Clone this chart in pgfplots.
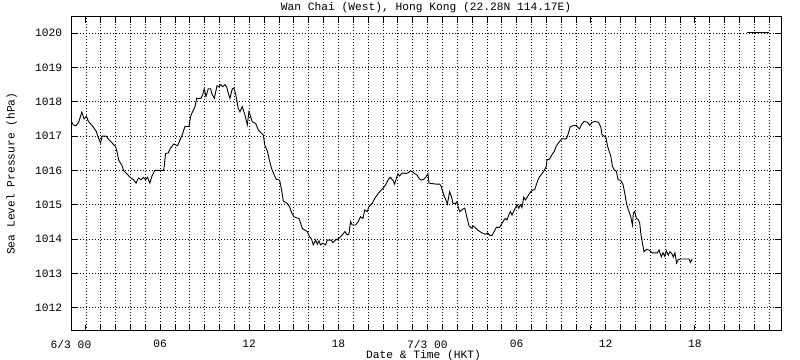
\documentclass[border=0pt]{standalone}
\usepackage{pgfplots}
\pgfplotsset{compat=1.18}
\usepackage{fontspec}
\setmainfont{Liberation Mono}
\newcommand\cf{\fontsize{11.3}{13}\selectfont}
\pgfplotstableread{
h v
0.00 1017.45
0.15 1017.33
0.33 1017.30
0.51 1017.40
0.73 1017.70
0.88 1017.50
1.04 1017.58
1.17 1017.43
1.44 1017.30
1.70 1017.14
1.84 1016.95
1.99 1016.80
2.10 1017.00
2.37 1017.00
2.54 1016.90
2.77 1016.80
2.99 1016.70
3.10 1016.55
3.21 1016.30
3.43 1016.15
3.54 1016.00
3.76 1015.90
3.98 1015.80
4.20 1015.73
4.38 1015.63
4.54 1015.78
4.71 1015.73
4.87 1015.80
5.02 1015.73
5.15 1015.80
5.31 1015.63
5.46 1015.85
5.64 1016.00
6.08 1016.00
6.24 1016.00
6.37 1016.50
6.53 1016.50
6.70 1016.65
6.92 1016.77
7.18 1016.72
7.34 1016.89
7.49 1017.04
7.67 1017.28
7.94 1017.28
8.05 1017.57
8.17 1017.70
8.35 1017.86
8.46 1018.10
8.75 1018.10
8.86 1018.20
8.97 1018.38
9.09 1018.15
9.24 1018.38
9.40 1018.38
9.47 1018.25
9.65 1018.10
9.83 1018.47
9.96 1018.44
10.09 1018.50
10.21 1018.44
10.36 1018.50
10.48 1018.44
10.59 1018.25
10.70 1018.10
10.86 1018.38
10.97 1018.40
11.10 1018.20
11.26 1017.81
11.37 1017.71
11.53 1017.86
11.71 1017.62
11.87 1017.33
11.98 1017.71
12.09 1017.57
12.20 1017.42
12.43 1017.37
12.61 1017.18
12.83 1017.08
12.94 1017.04
13.05 1016.74
13.23 1016.55
13.35 1016.31
13.50 1016.06
13.68 1015.87
13.82 1015.74
14.04 1015.72
14.18 1015.43
14.29 1015.11
14.56 1015.04
14.72 1014.94
14.85 1014.77
15.01 1014.65
15.17 1014.62
15.35 1014.60
15.46 1014.46
15.57 1014.31
15.75 1014.26
15.91 1014.22
16.06 1014.07
16.20 1013.99
16.31 1013.83
16.47 1013.97
16.58 1013.85
16.69 1013.95
16.80 1013.83
16.96 1013.88
17.14 1013.83
17.25 1013.97
17.52 1013.97
17.63 1013.90
17.81 1013.97
18.04 1014.02
18.26 1014.12
18.44 1014.22
18.60 1014.12
18.71 1014.14
18.82 1014.51
18.93 1014.41
19.16 1014.41
19.34 1014.51
19.49 1014.65
19.65 1014.60
19.78 1014.85
19.94 1014.80
20.05 1014.94
20.28 1015.04
20.46 1015.19
20.68 1015.33
21.00 1015.48
21.18 1015.58
21.34 1015.72
21.49 1015.80
21.67 1015.72
21.79 1015.60
21.90 1015.77
22.01 1015.90
22.12 1015.84
22.24 1015.90
22.35 1015.93
22.53 1015.91
22.69 1015.93
22.84 1015.99
22.98 1015.96
23.13 1015.91
23.29 1015.87
23.43 1015.77
23.58 1015.72
23.74 1015.74
23.88 1015.80
24.03 1015.91
24.10 1015.63
24.60 1015.60
24.82 1015.60
24.93 1015.53
25.09 1015.29
25.22 1015.16
25.34 1015.02
25.49 1015.38
25.61 1015.24
25.72 1015.04
25.90 1015.04
25.99 1015.09
26.06 1014.94
26.17 1014.80
26.36 1014.87
26.51 1014.90
26.62 1014.70
26.80 1014.38
26.96 1014.32
27.07 1014.38
27.25 1014.32
27.45 1014.24
27.67 1014.18
27.90 1014.14
28.05 1014.18
28.19 1014.11
28.35 1014.11
28.46 1014.20
28.64 1014.34
28.86 1014.34
29.02 1014.46
29.13 1014.54
29.24 1014.60
29.35 1014.56
29.47 1014.70
29.58 1014.80
29.69 1014.70
29.85 1014.85
30.03 1015.00
30.14 1014.90
30.25 1015.00
30.36 1014.92
30.48 1015.22
30.59 1015.14
30.74 1015.24
30.88 1015.34
31.04 1015.42
31.22 1015.44
31.33 1015.59
31.48 1015.77
31.64 1015.87
31.82 1015.97
32.00 1016.12
32.04 1016.31
32.22 1016.33
32.38 1016.46
32.54 1016.56
32.67 1016.71
32.83 1016.81
33.05 1016.92
33.35 1016.92
33.46 1017.05
33.61 1017.27
33.84 1017.31
34.02 1017.31
34.22 1017.21
34.40 1017.36
34.55 1017.43
34.78 1017.40
34.93 1017.31
35.07 1017.40
35.29 1017.43
35.51 1017.40
35.67 1017.27
35.74 1017.05
35.89 1017.00
36.01 1016.97
36.12 1016.71
36.23 1016.56
36.34 1016.42
36.45 1016.12
36.57 1016.02
36.72 1015.97
36.83 1015.73
37.01 1015.71
37.17 1015.58
37.30 1015.29
37.42 1015.00
37.53 1014.85
37.68 1014.66
37.80 1014.41
37.86 1014.76
37.95 1014.80
38.06 1014.61
38.20 1014.56
38.29 1014.46
38.36 1014.17
38.47 1013.88
38.58 1013.63
38.74 1013.70
38.91 1013.68
39.14 1013.60
39.47 1013.60
39.59 1013.68
39.74 1013.48
39.85 1013.60
39.97 1013.50
40.08 1013.66
40.21 1013.53
40.32 1013.63
40.44 1013.58
40.55 1013.48
40.66 1013.60
40.77 1013.30
40.88 1013.40
41.04 1013.42
41.38 1013.42
41.60 1013.42
41.71 1013.32
41.82 1013.42
}\pressure
\begin{document}
\begin{tikzpicture}
\begin{axis}[
  scale only axis,
  width=710bp, height=314bp,
  xmin=0, xmax=47.8,
  ymin=1011.33, ymax=1020.48,
  xtick={0,6,12,18,24,30,36,42},
  xticklabels={6/3 00,06,12,18,7/3 00,06,12,18},
  minor xtick={1,...,47},
  ytick={1012,1013,...,1020},
  grid=both,
  major grid style={black, line width=0.7bp, dash pattern=on 1bp off 2bp},
  minor grid style={black, line width=0.7bp, dash pattern=on 1bp off 2bp},
  major tick length=6bp, minor tick length=6bp,
  tick align=inside,
  tick style={black, line width=0.8bp},
  axis line style={black, line width=0.9bp},
  scaled y ticks=false,
  /pgf/number format/.cd, 1000 sep={}, assume math mode=true,
  /pgfplots/.cd,
  xticklabel style={font=\cf, inner sep=0pt, anchor=north, yshift=-9.3bp},
  yticklabel style={font=\cf, inner sep=0pt, anchor=east, xshift=-8.7bp},
  title={Wan Chai (West), Hong Kong (22.28N 114.17E)},
  title style={font=\cf, inner sep=0pt, at={(axis description cs:0.5,1.0)}, anchor=base},
  xlabel={Date \& Time (HKT)},
  xlabel style={font=\cf, inner sep=0pt, at={(axis description cs:0.4965,-0.0615)}, anchor=north},
  ylabel={Sea Level Pressure (hPa)},
  ylabel style={font=\cf, inner sep=0pt, at={(axis description cs:-0.0835,0.5)}, anchor=center},
  legend style={draw=none, fill=none, inner sep=0pt, outer sep=0pt,
    at={(rel axis cs:0.9845,0.9503)}, anchor=east,
    nodes={inner sep=0pt}, column sep=0pt},
  legend image code/.code={\draw[#1] (0bp,0bp) -- (22bp,0bp);},
]
\addplot[black, line width=0.9bp] table[x=h, y=v] {\pressure};
\addlegendentry{}
\end{axis}
\pgfresetboundingbox
\path (-71bp,-29.3bp) rectangle (729bp,330.7bp);
\end{tikzpicture}
\end{document}
